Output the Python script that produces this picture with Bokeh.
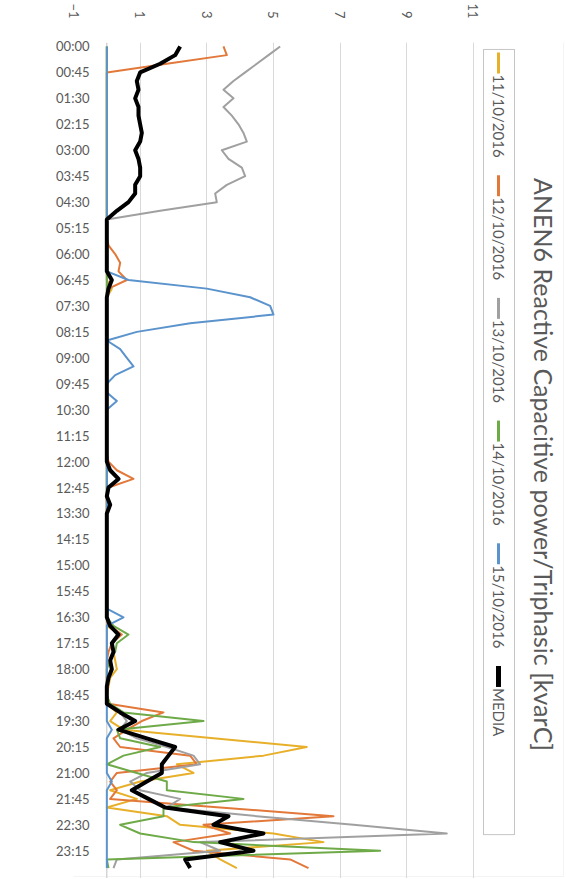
import math
from bokeh.plotting import figure
from bokeh.models import Range1d, FixedTicker, Span, Label, BoxAnnotation
from bokeh.embed import file_html
from bokeh.resources import INLINE

# ---------------- data ----------------
times = [f"{h:02d}:{m:02d}" for h in range(24) for m in (0, 15, 30, 45)]
tick_idx = list(range(0, 96, 3))
value_ticks = [-1, 1, 3, 5, 7, 9, 11]

series_names = ["11/10/2016", "12/10/2016", "13/10/2016", "14/10/2016", "15/10/2016", "MEDIA"]
colors = ["#E8B02A", "#E2783A", "#A0A0A0", "#6FAA48", "#5B93CC", "#000000"]
widths = [2, 2, 2, 2, 2, 4]

s11 = [0, 0, 0, 0, 0, 0, 0, 0, 0, 0, 0, 0,
       0, 0, 0, 0, 0, 0, 0, 0, 0, 0, 0, 0,
       0, 0, 0, 0, 0.15, 0, 0, 0, 0, 0, 0, 0,
       0, 0, 0, 0, 0, 0, 0, 0, 0, 0, 0, 0,
       0, 0, 0, 0, 0, 0, 0, 0, 0, 0, 0, 0,
       0, 0, 0, 0, 0, 0, 0, 0, 0.4, 0.15, 0.2, 0.25,
       0.3, 0.1, 0.05, 0, 0, 0.3, 0.1, 0.5, 3.2, 6.0, 4.7, 2.1,
       2.6, 1.0, 0.1, 0.9, 0.0, 1.8, 2.2, 5.0, 6.5, 3.0, 3.4, 3.9]

s12 = [3.5, 3.6, 1.8, 0, 0, 0, 0, 0, 0, 0, 0, 0,
       0, 0, 0, 0, 0, 0, 0, 0, 0, 0, 0, 0.05,
       0.25, 0.4, 0.35, 0.6, 0.05, 0, 0, 0, 0, 0, 0, 0,
       0, 0, 0, 0, 0, 0, 0, 0, 0, 0, 0, 0,
       0.05, 0.3, 0.8, 0.05, 0, 0, 0, 0, 0, 0, 0, 0,
       0, 0, 0, 0, 0, 0, 0, 0.1, 0.45, 0.15, 0.05, 0,
       0, 0, 0, 0, 0.05, 1.7, 1.05, 0.6, 0.2, 0.4, 2.5, 2.7,
       0.3, 0.1, 0.3, 0.1, 3.4, 6.8, 2.9, 3.7, 2.0, 2.6, 5.5, 6.05]

s13 = [5.2, 4.85, 4.5, 4.15, 3.8, 3.5, 3.8, 3.5, 3.75, 3.95, 4.1, 4.2,
       3.45, 3.65, 4.05, 4.15, 3.6, 3.25, 3.3, 1.6, 0, 0, 0, 0,
       0, 0, 0, 0, 0, 0, 0, 0, 0, 0, 0, 0,
       0, 0, 0, 0, 0, 0, 0, 0, 0, 0, 0, 0,
       0, 0, 0, 0, 0, 0, 0, 0, 0, 0, 0, 0,
       0, 0, 0, 0, 0, 0, 0, 0, 0, 0, 0, 0,
       0, 0, 0, 0, 0, 0.4, 0.6, 0.4, 0.9, 1.8, 2.6, 2.8,
       1.2, 0.7, 1.0, 2.2, 1.8, 4.5, 7.4, 10.2, 2.8, 3.4, 0.3, 0.2]

s14 = [0, 0, 0, 0, 0, 0, 0, 0, 0, 0, 0, 0,
       0, 0, 0, 0, 0, 0, 0, 0, 0, 0, 0, 0,
       0, 0, 0, 0, 0, 0, 0, 0, 0, 0, 0, 0,
       0, 0, 0, 0, 0, 0, 0, 0, 0, 0, 0, 0,
       0, 0, 0, 0, 0, 0, 0, 0, 0, 0, 0, 0,
       0, 0, 0, 0, 0, 0, 0, 0.2, 0.65, 0.3, 0.25, 0.1,
       0, 0, 0, 0, 0.1, 0.5, 2.9, 0.3, 0.4, 1.6, 0.5, 0.0,
       0.9, 1.8, 1.8, 4.1, 1.7, 1.7, 0.4, 1.0, 2.6, 8.2, 0.0, 0.05]

s15 = [0, 0, 0, 0, 0, 0, 0, 0, 0, 0, 0, 0,
       0, 0, 0, 0, 0, 0, 0, 0, 0, 0, 0, 0,
       0, 0, 0, 0.65, 3.0, 4.3, 4.9, 5.0, 2.5, 0.9, 0, 0.4,
       0.6, 0.8, 0.25, 0, 0, 0.3, 0, 0, 0, 0, 0, 0,
       0, 0, 0, 0, 0, 0, 0, 0, 0, 0, 0, 0,
       0, 0, 0, 0, 0, 0, 0.5, 0, 0, 0, 0, 0,
       0, 0, 0, 0, 0, 0, 0, 0.15, 0, 0, 0, 0,
       0, 0.15, 0, 0, 0, 0, 0, 0, 0, 0, 0, 0]

media = [2.2, 2.05, 1.6, 1.0, 0.9, 0.95, 0.85, 0.95, 0.95, 1.0, 1.05, 1.0,
         0.85, 0.95, 1.0, 1.0, 0.85, 0.85, 0.65, 0.3, 0, 0, 0, 0,
         0, 0, 0, 0.15, 0.05, 0, 0, 0, 0, 0, 0, 0,
         0, 0, 0, 0, 0, 0, 0, 0, 0, 0, 0, 0,
         0, 0.1, 0.35, 0.05, 0, 0.1, 0, 0, 0, 0, 0, 0,
         0, 0, 0, 0, 0, 0, 0, 0.1, 0.35, 0.15, 0.2, 0.1,
         0.15, 0.05, 0, 0, 0, 0.4, 0.85, 0.35, 1.2, 2.05, 1.85, 1.65,
         1.65, 1.2, 0.75, 1.25, 1.75, 3.65, 3.2, 4.7, 3.4, 4.4, 2.35, 2.5]

all_series = [s11, s12, s13, s14, s15, media]
title_text = "ANEN6 Reactive Capacitive power/Triphasic [kvarC]"

# ---------------- layout ----------------
# bokeh's standalone template puts the canvas at the page's top-left corner
W, H = 566, 878
OX, OY = 0, 0
LEFT, TOP = 73, 40
PX_X = 33.33
XMIN = -1.0
XMAX = XMIN + (W - LEFT) / PX_X
Y_TOP = -0.46
PX_Y = 8.669
Y_BOT = Y_TOP + (H - TOP) / PX_Y
FONT = "Lato"
GREY = "#595959"


def px_x(page_x):
    return XMIN + (page_x - OX - LEFT) / PX_X


def px_y(page_y):
    return Y_TOP + (page_y - OY - TOP) / PX_Y


p = figure(width=W, height=H,
           x_range=Range1d(XMIN, XMAX), y_range=Range1d(Y_BOT, Y_TOP),
           x_axis_location="above", output_backend="svg", toolbar_location=None,
           min_border_left=LEFT, min_border_top=TOP, min_border_right=0, min_border_bottom=0)
p.outline_line_color = None
p.background_fill_color = "white"

# value axis (top)
xa = p.xaxis[0]
xa.ticker = FixedTicker(ticks=value_ticks)
xa.major_label_orientation = -math.pi / 2
xa.axis_line_color = None
xa.major_tick_line_color = None
xa.minor_tick_line_color = None
xa.major_label_standoff = 18
xa.major_label_text_color = GREY
xa.major_label_text_font = FONT
xa.major_label_text_font_size = "13px"

# time axis (left) - labels sit inside, next to the axis crossing at 0
ya = p.yaxis[0]
ya.ticker = FixedTicker(ticks=tick_idx)
ya.major_label_overrides = {i: times[i] for i in tick_idx}
ya.axis_line_color = None
ya.major_tick_line_color = None
ya.minor_tick_line_color = None
ya.major_label_standoff = -22
ya.major_label_text_color = GREY
ya.major_label_text_font = FONT
ya.major_label_text_font_size = "13px"

p.xgrid.ticker = FixedTicker(ticks=value_ticks)
p.xgrid.grid_line_color = "#d9d9d9"
p.ygrid.grid_line_color = None

p.add_layout(Span(location=0, dimension="height", line_color="#bfbfbf", line_width=1, level="underlay"))

# outer chart border
p.add_layout(BoxAnnotation(left=3, right=563, top=3, bottom=876,
                           left_units="canvas", right_units="canvas",
                           top_units="canvas", bottom_units="canvas",
                           fill_color=None, line_color="#d9d9d9", line_width=1))

idx = list(range(len(times)))
for name, data, col, w in zip(series_names, all_series, colors, widths):
    p.line(x=data, y=idx, line_color=col, line_width=w, line_join="round")

# ---------------- rotated legend ----------------
box_l, box_r, box_t, box_b = 483, 514, 47, 834
p.add_layout(BoxAnnotation(left=px_x(box_l), right=px_x(box_r), top=px_y(box_t), bottom=px_y(box_b),
                           fill_color=None, line_color="#404040", line_width=1))
entry_starts = [50, 173, 296, 419, 542, 665]
lx = px_x(498)
for name, col, w, ys in zip(series_names, colors, widths, entry_starts):
    p.segment(x0=[lx], y0=[px_y(ys)], x1=[lx], y1=[px_y(ys + 21)], line_color=col, line_width=w + 1)
    p.add_layout(Label(x=lx, y=px_y(ys + 22), text=name, angle=-math.pi / 2,
                       text_align="left", text_baseline="middle",
                       text_font=FONT, text_font_size="15px", text_color=GREY))

p.add_layout(Label(x=px_x(543), y=px_y(463), text=title_text, angle=-math.pi / 2,
                   text_align="center", text_baseline="middle",
                   text_font=FONT, text_font_size="25px", text_color=GREY))

open("out.html", "w").write(file_html(p, INLINE))
